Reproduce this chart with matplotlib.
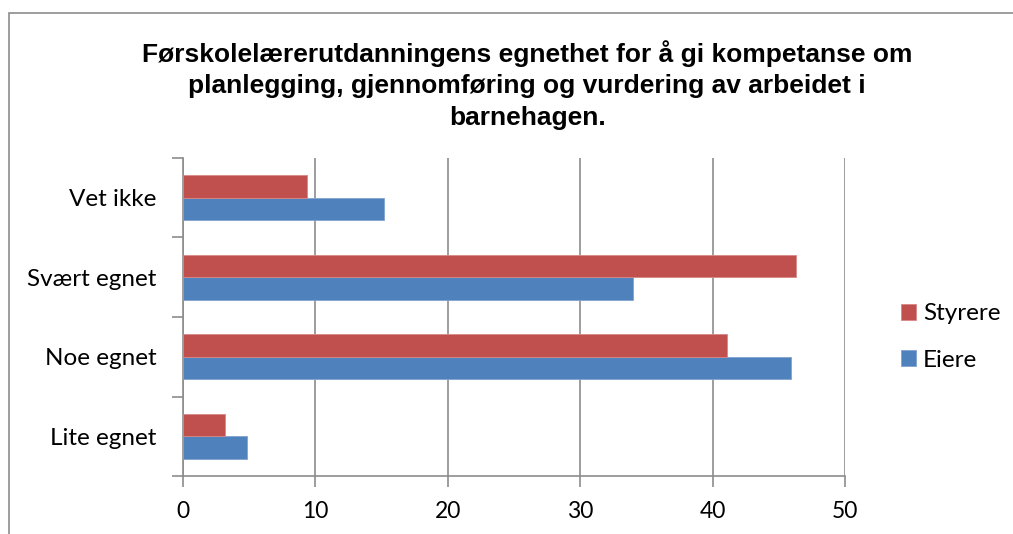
import matplotlib
matplotlib.use("Agg")
import matplotlib.pyplot as plt
from matplotlib.patches import Rectangle
import numpy as np

categories = ["Lite egnet", "Noe egnet", "Svært egnet", "Vet ikke"]
eiere = [4.8, 45.9, 34.0, 15.2]
styrere = [3.2, 41.1, 46.3, 9.4]
xticks = [0, 10, 20, 30, 40, 50]
title = ("Førskolelærerutdanningens egnethet for å gi kompetanse om\n"
         "planlegging, gjennomføring og vurdering av arbeidet i\n"
         "barnehagen.")

W, H = 1013, 534
fig = plt.figure(figsize=(W / 100, H / 100), dpi=100)
fig.patch.set_facecolor("white")

# outer chart border
fig.add_artist(Rectangle((9 / W, -0.01), 1.05, (H - 13) / H + 0.01,
                         transform=fig.transFigure, fill=False,
                         edgecolor="#8c8c8c", linewidth=1.2))

ax = fig.add_axes([183 / W, (H - 476) / H, (845 - 183) / W, (476 - 158) / H])

blue = "#4f81bd"
red = "#c0504d"
y = np.arange(len(categories))
h = 0.283
ax.barh(y - h / 2, eiere, height=h, color=blue, edgecolor="#7fa3d1",
        linewidth=0.6, label="Eiere", zorder=3)
ax.barh(y + h / 2, styrere, height=h, color=red, edgecolor="#d98886",
        linewidth=0.6, label="Styrere", zorder=3)

ax.set_xlim(0, 50)
ax.set_ylim(-0.5, len(categories) - 0.5)
ax.set_xticks(xticks)
ax.set_xticklabels([str(t) for t in xticks], fontsize=16.5, family="Lato")
ax.set_yticks(y)
ax.set_yticklabels(categories, fontsize=17.5, family="Lato")
ax.set_yticks(np.arange(len(categories) + 1) - 0.5, minor=True)
ax.tick_params(axis="y", which="major", length=0, pad=19)
ax.tick_params(axis="y", which="minor", length=8, color="#8c8c8c", width=1.2)
ax.tick_params(axis="x", length=8, color="#8c8c8c", width=1.2, pad=10)
ax.xaxis.grid(True, color="#8c8c8c", linewidth=1.2, zorder=0)
for s in ["top", "right"]:
    ax.spines[s].set_visible(False)
for s in ["left", "bottom"]:
    ax.spines[s].set_color("#8c8c8c")
    ax.spines[s].set_linewidth(1.2)

fig.text(0.5205, (H - 40) / H, title, ha="center", va="top", fontsize=19,
         fontweight="bold", family="Liberation Sans", linespacing=1.4)

handles, labels = ax.get_legend_handles_labels()
leg = fig.legend(handles[::-1], labels[::-1], loc="center left",
                 bbox_to_anchor=(879 / W, (H - 337) / H), frameon=False,
                 prop={"family": "Lato", "size": 17.5}, handlelength=0.62,
                 handleheight=0.62, labelspacing=1.05, handletextpad=0.3)

fig.savefig("out.png", dpi=100)
